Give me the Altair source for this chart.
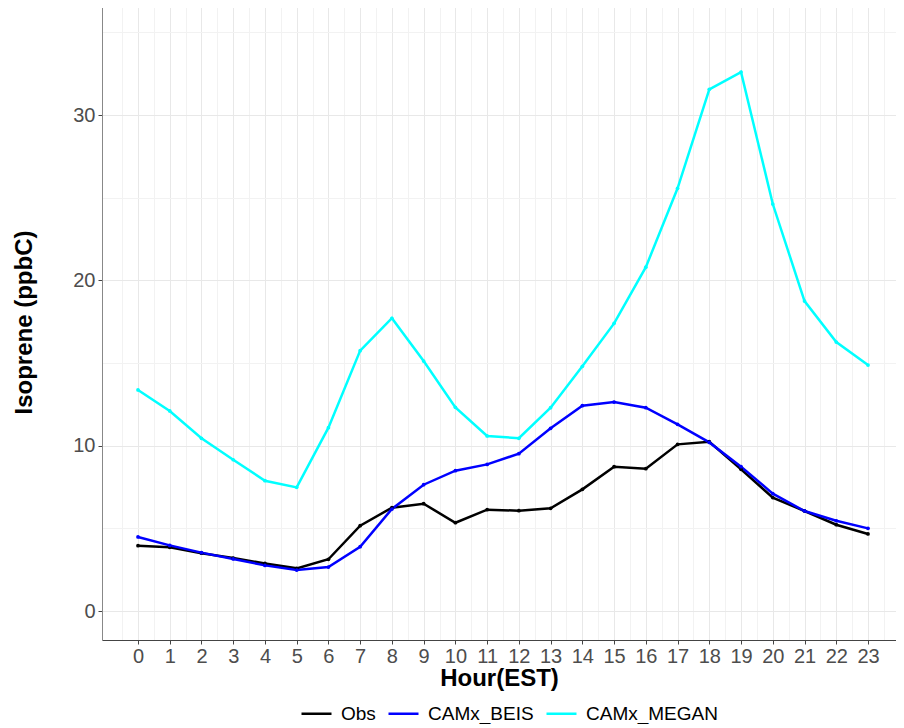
import altair as alt
import pandas as pd

hours = list(range(24))
obs = [3.95, 3.85, 3.5, 3.2, 2.88, 2.58, 3.13, 5.16, 6.25, 6.49, 5.34, 6.13,
       6.07, 6.21, 7.36, 8.73, 8.61, 10.08, 10.24, 8.57, 6.86, 6.05, 5.22, 4.66]
beis = [4.48, 3.97, 3.53, 3.15, 2.76, 2.48, 2.66, 3.89, 6.17, 7.64, 8.49, 8.87,
        9.52, 11.05, 12.42, 12.64, 12.3, 11.29, 10.2, 8.73, 7.1, 6.05, 5.46, 5.0]
megan = [13.37, 12.1, 10.45, 9.15, 7.88, 7.48, 11.09, 15.75, 17.71, 15.12, 12.32, 10.59,
         10.45, 12.3, 14.8, 17.4, 20.8, 25.57, 31.56, 32.6, 24.62, 18.75, 16.27, 14.88]

series_names = ["Obs", "CAMx_BEIS", "CAMx_MEGAN"]
series_colors = ["#000000", "#0000FF", "#00FFFF"]

x_grid_values = [v / 2 for v in range(-1, 48)]
y_grid_values = [0, 5, 10, 15, 20, 25, 30, 35]

rows = []
for name, vals in zip(series_names, [obs, beis, megan]):
    for h, v in zip(hours, vals):
        rows.append({"hour": h, "value": v, "series": name})
df = pd.DataFrame(rows)

W, H = 794, 636
FONT = "Liberation Sans"

x_axis = alt.Axis(
    title="Hour(EST)",
    values=x_grid_values,
    labelExpr="datum.value % 1 == 0 ? format(datum.value, 'd') : ''",
    labelOverlap=False,
    labelFlush=False,
    tickOpacity={"condition": {"test": "datum.value % 1 != 0", "value": 0}, "value": 1},
    gridColor={"condition": {"test": "datum.value % 1 != 0", "value": "#f2f2f2"}, "value": "#e8e8e8"},
    domainColor="#444444",
    tickColor="#444444",
    tickSize=4,
    labelPadding=2,
    labelFontSize=20,
    labelColor="#4d4d4d",
    labelFont=FONT,
    titleFont=FONT,
    titleFontSize=24,
    titleFontWeight="bold",
    titleColor="#000000",
    titlePadding=0,
)

y_axis = alt.Axis(
    title="Isoprene (ppbC)",
    values=y_grid_values,
    labelExpr="datum.value % 10 == 0 ? format(datum.value, 'd') : ''",
    labelOverlap=False,
    labelFlush=False,
    tickOpacity={"condition": {"test": "datum.value % 10 != 0", "value": 0}, "value": 1},
    gridColor={"condition": {"test": "datum.value % 10 != 0", "value": "#f2f2f2"}, "value": "#e8e8e8"},
    domainColor="#888888",
    tickColor="#444444",
    tickSize=4,
    labelPadding=3,
    labelFontSize=20,
    labelColor="#4d4d4d",
    labelFont=FONT,
    titleFont=FONT,
    titleFontSize=24,
    titleFontWeight="bold",
    titleColor="#000000",
    titlePadding=36,
)

lines = alt.Chart(df).mark_line(
    strokeWidth=2.5,
    point=alt.OverlayMarkDef(filled=True, size=14),
).encode(
    x=alt.X("hour:Q", scale=alt.Scale(domain=[-1.134, 23.882], nice=False, zero=False), axis=x_axis),
    y=alt.Y("value:Q", scale=alt.Scale(domain=[-1.754, 36.72], nice=False, zero=False), axis=y_axis),
    color=alt.Color(
        "series:N",
        scale=alt.Scale(domain=series_names, range=series_colors),
        sort=series_names,
        legend=alt.Legend(
            title=None,
            orient="none",
            direction="horizontal",
            legendX=198,
            legendY=693,
            symbolType="stroke",
            symbolSize=900,
            symbolStrokeWidth=2.5,
            labelFontSize=19,
            labelFont=FONT,
            labelColor="#000000",
            labelOffset=8,
            columnPadding=7,
        ),
    ),
)

top_border = alt.Chart(pd.DataFrame({"a": [0]})).mark_rule(color="#888888", strokeWidth=1).encode(
    x=alt.value(0), x2=alt.value(W), y=alt.value(0)
)

chart = alt.layer(lines, top_border).properties(
    width=W,
    height=H,
    autosize=alt.AutoSizeParams(type="none"),
    padding={"top": -4, "left": 94, "right": 0, "bottom": 84},
).configure_view(stroke=None).configure(background="white")

chart.save("out.html", embed_options={"renderer": "svg", "actions": False})
